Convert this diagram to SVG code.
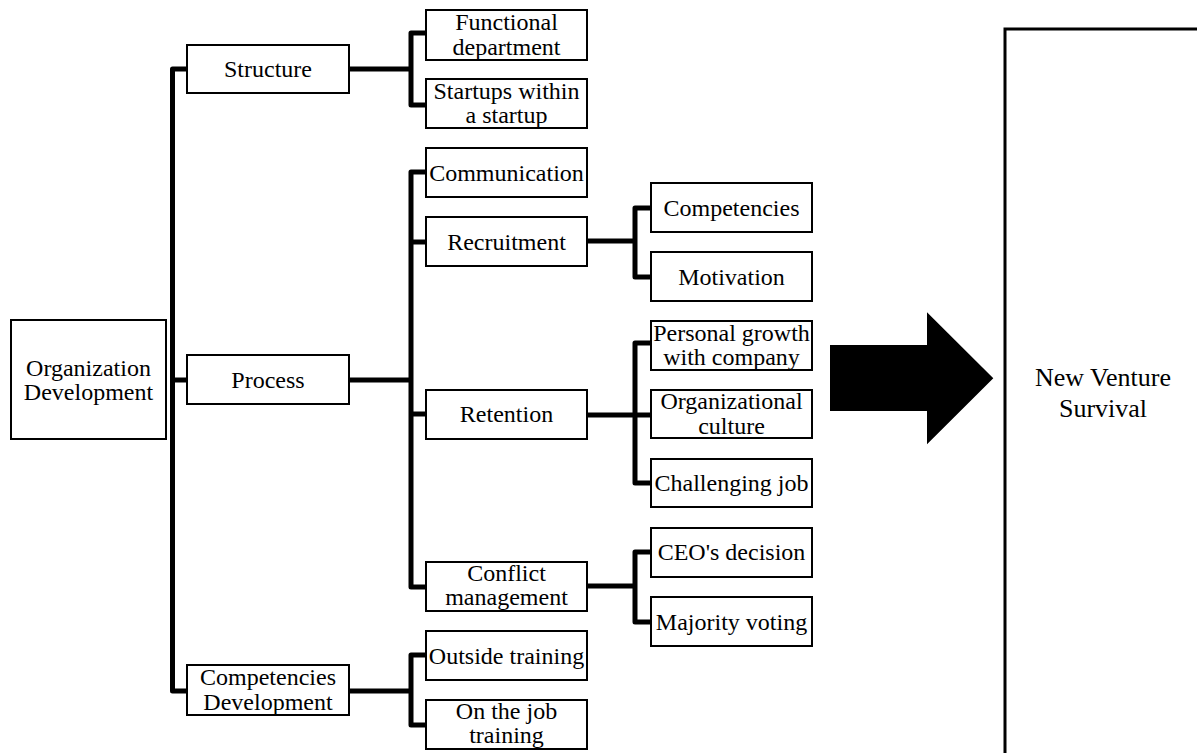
<svg xmlns="http://www.w3.org/2000/svg" width="1197" height="753" viewBox="0 0 1197 753" font-family="'Liberation Serif', 'DejaVu Serif', serif">
<style>
  .box { fill: #fff; stroke: #000; stroke-width: 2; }
  text { font-family: 'Liberation Serif', 'DejaVu Serif', serif; font-size: 24px; text-anchor: middle; fill: #000; }
  .big { font-size: 26px; }
  .c { fill: none; stroke: #000; stroke-width: 5; stroke-linejoin: round; stroke-linecap: butt; }
</style>
<rect width="1197" height="753" fill="#fff"/>
<g id="connectors">
  <path class="c" d="M187,69 H172.5 V691 H187"/>
  <path class="c" d="M172.5,380 H187"/>
  <path class="c" d="M349,69 H411"/>
  <path class="c" d="M426,33 H411 V105 H426"/>
  <path class="c" d="M349,380 H411"/>
  <path class="c" d="M426,172 H411 V587 H426"/>
  <path class="c" d="M411,242 H426"/>
  <path class="c" d="M411,414 H426"/>
  <path class="c" d="M349,691 H411"/>
  <path class="c" d="M426,655 H411 V725 H426"/>
  <path class="c" d="M587,241 H635"/>
  <path class="c" d="M651,208 H635 V277 H651"/>
  <path class="c" d="M587,415 H651"/>
  <path class="c" d="M651,343 H635 V483 H651"/>
  <path class="c" d="M587,586 H635"/>
  <path class="c" d="M651,552 H635 V622 H651"/>
</g>
<g id="org">
  <rect class="box" x="11" y="320" width="155" height="119"/>
  <text x="88.5" y="375.5">Organization</text>
  <text x="88.5" y="400">Development</text>
</g>
<g id="structure">
  <rect class="box" x="187" y="45" width="162" height="48"/>
  <text x="268" y="77">Structure</text>
</g>
<g id="process">
  <rect class="box" x="187" y="355" width="162" height="49"/>
  <text x="268" y="387.5">Process</text>
</g>
<g id="compdev">
  <rect class="box" x="187" y="665" width="162" height="50"/>
  <text x="268" y="685">Competencies</text>
  <text x="268" y="709.5">Development</text>
</g>
<g id="functional">
  <rect class="box" x="426" y="10" width="161" height="50"/>
  <text x="506.5" y="30">Functional</text>
  <text x="506.5" y="54.5">department</text>
</g>
<g id="startups">
  <rect class="box" x="426" y="79" width="161" height="49"/>
  <text x="506.5" y="98.5">Startups within</text>
  <text x="506.5" y="123">a startup</text>
</g>
<g id="communication">
  <rect class="box" x="426" y="148" width="161" height="49"/>
  <text x="506.5" y="180.5">Communication</text>
</g>
<g id="recruitment">
  <rect class="box" x="426" y="217" width="161" height="49"/>
  <text x="506.5" y="249.5">Recruitment</text>
</g>
<g id="retention">
  <rect class="box" x="426" y="390" width="161" height="49"/>
  <text x="506.5" y="422">Retention</text>
</g>
<g id="conflict">
  <rect class="box" x="426" y="562" width="161" height="49"/>
  <text x="506.5" y="581">Conflict</text>
  <text x="506.5" y="605">management</text>
</g>
<g id="outside">
  <rect class="box" x="426" y="631" width="161" height="49"/>
  <text x="506.5" y="663.5">Outside training</text>
</g>
<g id="onthejob">
  <rect class="box" x="426" y="700" width="161" height="49"/>
  <text x="506.5" y="718.5">On the job</text>
  <text x="506.5" y="743">training</text>
</g>
<g id="competencies">
  <rect class="box" x="651" y="183" width="161" height="49"/>
  <text x="731.5" y="215.5">Competencies</text>
</g>
<g id="motivation">
  <rect class="box" x="651" y="252" width="161" height="49"/>
  <text x="731.5" y="284.5">Motivation</text>
</g>
<g id="personal">
  <rect class="box" x="651" y="321" width="161" height="49"/>
  <text x="731.5" y="340.5">Personal growth</text>
  <text x="731.5" y="365">with company</text>
</g>
<g id="culture">
  <rect class="box" x="651" y="390" width="161" height="48"/>
  <text x="731.5" y="409">Organizational</text>
  <text x="731.5" y="433.5">culture</text>
</g>
<g id="challenging">
  <rect class="box" x="651" y="459" width="161" height="48"/>
  <text x="731.5" y="491">Challenging job</text>
</g>
<g id="ceo">
  <rect class="box" x="651" y="528" width="161" height="49"/>
  <text x="731.5" y="560">CEO's decision</text>
</g>
<g id="majority">
  <rect class="box" x="651" y="597" width="161" height="49"/>
  <text x="731.5" y="629.5">Majority voting</text>
</g>
<g id="arrow">
  <polygon points="830,345 927,345 927,312.3 993.3,378.3 927,444.3 927,411 830,411" fill="#000"/>
</g>
<g id="survival">
  <rect x="1005" y="29" width="260" height="800" fill="none" stroke="#000" stroke-width="3"/>
  <text class="big" x="1103" y="385.7">New Venture</text>
  <text class="big" x="1103" y="416.7">Survival</text>
</g>
</svg>
